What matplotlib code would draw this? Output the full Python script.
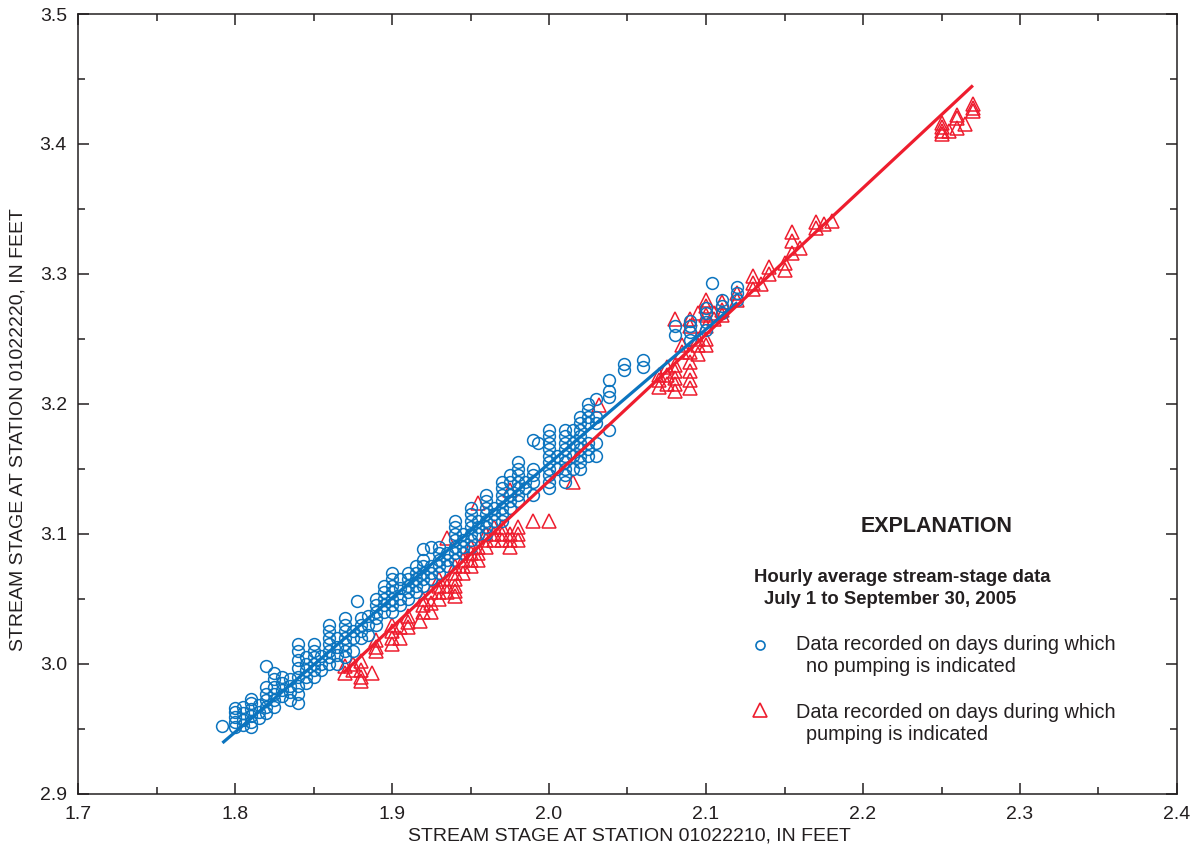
import matplotlib
matplotlib.use("Agg")
import matplotlib.pyplot as plt

plt.rcParams['font.family'] = ['Liberation Sans', 'DejaVu Sans']

# ---------------- data ----------------
# Blue circles: days with no pumping. Columns of x with stacked y values.
blue_cols_x = [1.792, 1.80, 1.805, 1.81, 1.815, 1.82, 1.825, 1.83, 1.835, 1.84,
               1.845, 1.85, 1.855, 1.86, 1.865, 1.87, 1.875, 1.878, 1.88, 1.885,
               1.89, 1.895, 1.90, 1.905, 1.91, 1.915, 1.92, 1.925, 1.93, 1.935,
               1.94, 1.945, 1.95, 1.955, 1.96, 1.965, 1.97, 1.975, 1.98, 1.985,
               1.99, 1.993, 2.00, 2.005, 2.01, 2.015, 2.02, 2.025, 2.03, 2.038,
               2.048, 2.06, 2.08, 2.09, 2.10, 2.104, 2.11, 2.12]
blue_cols_y = [
    [2.952],
    [2.951, 2.955, 2.959, 2.963, 2.966],
    [2.953, 2.957, 2.962, 2.967],
    [2.951, 2.955, 2.960, 2.965, 2.970, 2.973],
    [2.958, 2.963, 2.968],
    [2.962, 2.967, 2.972, 2.977, 2.982, 2.998],
    [2.967, 2.972, 2.977, 2.982, 2.988, 2.993],
    [2.975, 2.980, 2.985, 2.990],
    [2.972, 2.978, 2.983, 2.988],
    [2.970, 2.977, 2.983, 2.990, 2.997, 3.003, 3.010, 3.015],
    [2.985, 2.990, 2.995, 3.000, 3.005],
    [2.990, 2.995, 3.000, 3.005, 3.010, 3.015],
    [2.995, 3.000, 3.006],
    [3.000, 3.005, 3.010, 3.015, 3.020, 3.025, 3.030],
    [3.000, 3.007, 3.013, 3.020],
    [3.005, 3.010, 3.015, 3.020, 3.025, 3.030, 3.035],
    [3.010, 3.020, 3.025],
    [3.048],
    [3.020, 3.025, 3.030, 3.035],
    [3.022, 3.030, 3.037],
    [3.030, 3.035, 3.040, 3.045, 3.050],
    [3.040, 3.045, 3.050, 3.055, 3.060],
    [3.040, 3.045, 3.050, 3.055, 3.060, 3.065, 3.070],
    [3.045, 3.050, 3.058, 3.065],
    [3.050, 3.055, 3.060, 3.065, 3.070],
    [3.055, 3.060, 3.065, 3.070, 3.075],
    [3.060, 3.065, 3.070, 3.075, 3.080, 3.088],
    [3.065, 3.070, 3.075, 3.090],
    [3.070, 3.075, 3.080, 3.085, 3.090],
    [3.075, 3.080, 3.085],
    [3.080, 3.085, 3.090, 3.095, 3.100, 3.105, 3.110],
    [3.085, 3.090, 3.095, 3.100],
    [3.090, 3.095, 3.100, 3.105, 3.110, 3.115, 3.120],
    [3.100, 3.105, 3.110],
    [3.100, 3.105, 3.110, 3.115, 3.120, 3.125, 3.130],
    [3.110, 3.115, 3.120],
    [3.110, 3.115, 3.120, 3.125, 3.130, 3.135, 3.140],
    [3.120, 3.125, 3.130, 3.140, 3.145],
    [3.125, 3.130, 3.135, 3.140, 3.145, 3.150, 3.155],
    [3.135, 3.140],
    [3.130, 3.140, 3.145, 3.150, 3.172],
    [3.170],
    [3.135, 3.140, 3.145, 3.150, 3.155, 3.160, 3.165, 3.170, 3.175, 3.180],
    [3.150, 3.160],
    [3.140, 3.145, 3.150, 3.155, 3.160, 3.165, 3.170, 3.175, 3.180],
    [3.150, 3.160, 3.170, 3.180],
    [3.150, 3.155, 3.160, 3.165, 3.170, 3.175, 3.180, 3.185, 3.190],
    [3.160, 3.165, 3.170, 3.185, 3.190, 3.195, 3.200],
    [3.160, 3.170, 3.185, 3.190, 3.204],
    [3.180, 3.205, 3.210, 3.218],
    [3.226, 3.231],
    [3.228, 3.234],
    [3.253, 3.260],
    [3.249, 3.255, 3.260, 3.264],
    [3.257, 3.263, 3.270, 3.274],
    [3.293],
    [3.270, 3.275, 3.280],
    [3.280, 3.285, 3.290],
]

# Red triangles: days with pumping.
red_cols_x = [1.87, 1.875, 1.88, 1.887, 1.89, 1.90, 1.905, 1.91, 1.918, 1.92,
              1.925, 1.93, 1.935, 1.94, 1.945, 1.95, 1.955, 1.96, 1.965, 1.97,
              1.975, 1.98, 1.99, 2.00, 2.015, 2.032, 2.07, 2.075, 2.08, 2.085,
              2.09, 2.095, 2.10, 2.105, 2.11, 2.12, 2.13, 2.135, 2.14, 2.15,
              2.155, 2.16, 2.17, 2.175, 2.18, 2.25, 2.255, 2.26, 2.265, 2.27]
red_cols_y = [
    [2.993, 2.998],
    [2.995, 3.000],
    [2.987, 2.990, 2.995, 3.002],
    [2.993],
    [3.010, 3.013, 3.018],
    [3.015, 3.020, 3.025, 3.030],
    [3.020, 3.028],
    [3.028, 3.032, 3.037],
    [3.033],
    [3.040, 3.045, 3.050],
    [3.040, 3.047, 3.055],
    [3.050, 3.055, 3.060, 3.065],
    [3.055, 3.060, 3.097],
    [3.052, 3.056, 3.060, 3.065, 3.070, 3.075],
    [3.070, 3.075, 3.080],
    [3.075, 3.080, 3.085, 3.090],
    [3.080, 3.085, 3.090, 3.124],
    [3.090, 3.095, 3.100],
    [3.095, 3.100, 3.105],
    [3.095, 3.100, 3.105],
    [3.090, 3.095, 3.100, 3.134],
    [3.095, 3.100, 3.105],
    [3.110],
    [3.110],
    [3.140],
    [3.199],
    [3.213, 3.218, 3.222],
    [3.215, 3.222, 3.228],
    [3.210, 3.215, 3.220, 3.225, 3.230, 3.265],
    [3.240, 3.245],
    [3.212, 3.218, 3.225, 3.232, 3.240, 3.260, 3.265],
    [3.238, 3.245, 3.250, 3.270],
    [3.245, 3.250, 3.260, 3.268, 3.275, 3.280],
    [3.265, 3.270],
    [3.268, 3.272, 3.278],
    [3.280, 3.285],
    [3.288, 3.293, 3.298],
    [3.292],
    [3.300, 3.305],
    [3.303, 3.308],
    [3.316, 3.325, 3.332],
    [3.320],
    [3.335, 3.340],
    [3.338],
    [3.341],
    [3.408, 3.410, 3.413, 3.416],
    [3.410],
    [3.412, 3.420, 3.422],
    [3.415],
    [3.425, 3.428, 3.431],
]

# Fitted lines (end points)
blue_line_x = [1.792, 2.12]
blue_line_y = [2.939, 3.278]
red_line_x = [1.869, 2.270]
red_line_y = [2.993, 3.445]

x_ticks = [1.7, 1.8, 1.9, 2.0, 2.1, 2.2, 2.3, 2.4]
y_ticks = [2.9, 3.0, 3.1, 3.2, 3.3, 3.4, 3.5]

BLUE = '#0B74BF'
RED = '#EE1D2E'
TXT = '#231F20'

# ---------------- build point lists ----------------
bx, by = [], []
for x, ys in zip(blue_cols_x, blue_cols_y):
    for y in ys:
        bx.append(x); by.append(y)
rx, ry = [], []
for x, ys in zip(red_cols_x, red_cols_y):
    for y in ys:
        rx.append(x); ry.append(y)

W, H = 1198, 849
fig = plt.figure(figsize=(W / 100, H / 100), dpi=100)
ax = fig.add_axes([78 / W, 1 - 793.6 / H, (1177 - 78) / W, (793.6 - 14) / H])

ax.plot(rx, ry, linestyle='none', marker='^', markersize=10.5, markerfacecolor='none',
        markeredgecolor=RED, markeredgewidth=1.1, zorder=2)
ax.plot(bx, by, linestyle='none', marker='o', markersize=8.5, markerfacecolor='none',
        markeredgecolor=BLUE, markeredgewidth=1.1, zorder=3)
ax.plot(blue_line_x, blue_line_y, color=BLUE, lw=2.3, zorder=4, solid_capstyle='butt')
ax.plot(red_line_x, red_line_y, color=RED, lw=2.3, zorder=5, solid_capstyle='butt')

ax.set_xlim(1.7, 2.4)
ax.set_ylim(2.9, 3.5)
ax.set_xticks(x_ticks)
ax.set_yticks(y_ticks)
ax.set_xticklabels([f"{v:.1f}" for v in x_ticks])
ax.set_yticklabels([f"{v:.1f}" for v in y_ticks])
ax.set_xticks([v + 0.05 for v in x_ticks[:-1]], minor=True)
ax.set_yticks([v + 0.05 for v in y_ticks[:-1]], minor=True)
ax.tick_params(which='both', direction='in', top=True, right=True, colors=TXT,
               labelsize=14, width=1.1)
ax.tick_params(which='major', length=8)
ax.tick_params(which='minor', length=5)
ax.tick_params(axis='x', which='major', pad=9)
ax.tick_params(axis='y', which='major', pad=8)
for s in ax.spines.values():
    s.set_linewidth(1.1)
    s.set_color(TXT)

# axis labels
fig.text(629 / W, 1 - 836 / H, 'STREAM STAGE AT STATION 01022210, IN FEET',
         ha='center', va='center', fontsize=14, color=TXT)
fig.text(18 / W, 1 - 430 / H, 'STREAM STAGE AT STATION 01022220, IN FEET',
         ha='center', va='center', rotation=90, fontsize=14, color=TXT)

# explanation
fig.text(937 / W, 1 - 527 / H, 'EXPLANATION', ha='center', va='center',
         fontsize=15.5, fontweight='bold', color=TXT)
fig.text(754 / W, 1 - 577 / H, 'Hourly average stream-stage data', ha='left',
         va='center', fontsize=13.3, fontweight='bold', color=TXT)
fig.text(764 / W, 1 - 599 / H, 'July 1 to September 30, 2005', ha='left',
         va='center', fontsize=13.3, fontweight='bold', color=TXT)
fig.text(796 / W, 1 - 645 / H, 'Data recorded on days during which', ha='left',
         va='center', fontsize=14.3, color=TXT)
fig.text(806 / W, 1 - 667 / H, 'no pumping is indicated', ha='left',
         va='center', fontsize=14.3, color=TXT)
fig.text(796 / W, 1 - 712 / H, 'Data recorded on days during which', ha='left',
         va='center', fontsize=14.3, color=TXT)
fig.text(806 / W, 1 - 734 / H, 'pumping is indicated', ha='left',
         va='center', fontsize=14.3, color=TXT)

fig.lines.append(matplotlib.lines.Line2D([760 / W], [1 - 645 / H], transform=fig.transFigure,
                 linestyle='none', marker='o', markersize=6.5, markerfacecolor='none',
                 markeredgecolor=BLUE, markeredgewidth=1.2))
fig.lines.append(matplotlib.lines.Line2D([760 / W], [1 - 710 / H], transform=fig.transFigure,
                 linestyle='none', marker='^', markersize=9.5, markerfacecolor='none',
                 markeredgecolor=RED, markeredgewidth=1.2))

fig.savefig('out.png', dpi=100)
